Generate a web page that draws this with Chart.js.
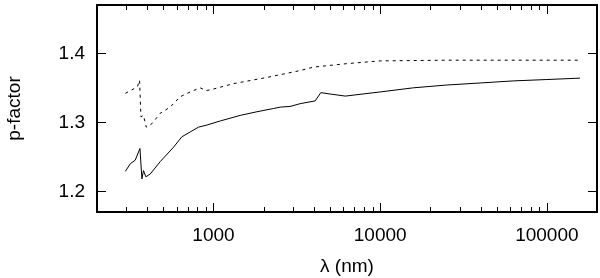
<!DOCTYPE html>
<html>
<head>
<meta charset="utf-8">
<script src="https://cdn.jsdelivr.net/npm/chart.js@4.4.0/dist/chart.umd.min.js"></script>
<style>
  html, body { margin: 0; padding: 0; background: #fff; }
  #wrap { width: 600px; height: 278px; }
</style>
</head>
<body>
<div id="wrap"><canvas id="pChart"></canvas></div>
<script>
// solid curve
const solidLambda = [296, 317, 339, 362, 372, 380, 393, 417, 479, 576, 646, 725, 813, 913, 1100, 1446, 1800, 2290, 2513, 2881, 3313, 4076, 4405, 5010, 6180, 7257, 10000, 15840, 25000, 39800, 63000, 100000, 158000];
const solidP = [1.229, 1.240, 1.245, 1.262, 1.218, 1.230, 1.221, 1.225, 1.243, 1.264, 1.279, 1.286, 1.293, 1.296, 1.302, 1.310, 1.315, 1.320, 1.322, 1.323, 1.327, 1.331, 1.343, 1.341, 1.338, 1.340, 1.344, 1.350, 1.354, 1.357, 1.360, 1.362, 1.364];

// dashed curve
const dashLambda = [296, 324, 350, 360, 367, 380, 395, 427, 479, 549, 631, 725, 832, 900, 956, 1318, 2090, 2513, 3313, 3980, 6310, 10000, 25100, 158000];
const dashP = [1.342, 1.347, 1.352, 1.361, 1.308, 1.310, 1.293, 1.298, 1.313, 1.322, 1.337, 1.344, 1.350, 1.346, 1.347, 1.356, 1.365, 1.369, 1.375, 1.380, 1.385, 1.389, 1.390, 1.390];

// ticks
const xMajorTicks = [1000, 10000, 100000];
const yTicks = [1.2, 1.3, 1.4];

const xMinorTicks = [];
[100, 1000, 10000, 100000].forEach(d => {
    for (let k = 2; k <= 9; k++) {
        const v = d * k;
        if (v >= 200 && v <= 200000 && xMajorTicks.indexOf(v) < 0) xMinorTicks.push(v);
    }
});

function pts(xs, ys) {
    return xs.map((x, i) => ({ x: x, y: ys[i] }));
}

// frame + inside ticks, drawn with the chart's own scales
const framePlugin = {
    id: 'frame',
    afterDraw(chart) {
        const ctx = chart.ctx;
        const a = chart.chartArea;
        const xs = chart.scales.x, ys = chart.scales.y;
        ctx.save();
        ctx.strokeStyle = '#000';
        ctx.lineWidth = 1;
        ctx.beginPath();
        xMajorTicks.forEach(v => {
            const px = Math.round(xs.getPixelForValue(v)) + 0.5;
            ctx.moveTo(px, a.bottom); ctx.lineTo(px, a.bottom - 9);
            ctx.moveTo(px, a.top); ctx.lineTo(px, a.top + 9);
        });
        xMinorTicks.forEach(v => {
            const px = Math.round(xs.getPixelForValue(v)) + 0.5;
            ctx.moveTo(px, a.bottom); ctx.lineTo(px, a.bottom - 5);
            ctx.moveTo(px, a.top); ctx.lineTo(px, a.top + 5);
        });
        yTicks.forEach(v => {
            const py = Math.round(ys.getPixelForValue(v)) + 0.5;
            ctx.moveTo(a.left, py); ctx.lineTo(a.left + 9, py);
            ctx.moveTo(a.right, py); ctx.lineTo(a.right - 9, py);
        });
        ctx.stroke();
        ctx.lineWidth = 2;
        ctx.strokeRect(a.left, a.top, a.right - a.left, a.bottom - a.top);
        ctx.restore();
    }
};

const ctx = document.getElementById('pChart').getContext('2d');
new Chart(ctx, {
    type: 'line',
    data: {
        datasets: [
            {
                data: pts(solidLambda, solidP),
                borderColor: '#000',
                borderWidth: 1,
                pointRadius: 0,
                tension: 0
            },
            {
                data: pts(dashLambda, dashP),
                borderColor: '#000',
                borderWidth: 1,
                borderDash: [3, 4],
                pointRadius: 0,
                tension: 0
            }
        ]
    },
    options: {
        responsive: true,
        maintainAspectRatio: false,
        animation: false,
        layout: { padding: { top: 5, right: 3, left: 0, bottom: 0 } },
        plugins: {
            legend: { display: false },
            tooltip: { enabled: false }
        },
        scales: {
            x: {
                type: 'logarithmic',
                min: 200,
                max: 200000,
                grid: { display: false, drawTicks: false },
                border: { display: false },
                afterBuildTicks: s => { s.ticks = xMajorTicks.map(v => ({ value: v })); },
                afterFit: s => { s.height = 66; s.paddingLeft = 0; s.paddingRight = 0; },
                ticks: {
                    color: '#000',
                    font: { family: 'Liberation Sans', size: 19 },
                    padding: 12,
                    maxRotation: 0,
                    autoSkip: false,
                    callback: v => String(v)
                },
                title: {
                    display: true,
                    text: 'λ (nm)',
                    color: '#000',
                    font: { family: 'Liberation Sans', size: 19 },
                    padding: { top: 2, bottom: 0 }
                }
            },
            y: {
                min: 1.17,
                max: 1.47,
                grid: { display: false, drawTicks: false },
                border: { display: false },
                afterBuildTicks: s => { s.ticks = yTicks.map(v => ({ value: v })); },
                afterFit: s => { s.width = 97; s.paddingTop = 0; s.paddingBottom = 0; },
                ticks: {
                    color: '#000',
                    font: { family: 'Liberation Sans', size: 19 },
                    padding: 12,
                    callback: v => v.toFixed(1)
                },
                title: {
                    display: true,
                    text: 'p-factor',
                    color: '#000',
                    font: { family: 'Liberation Sans', size: 19 },
                    padding: { top: 3, bottom: 12 }
                }
            }
        }
    },
    plugins: [framePlugin]
});
</script>
</body>
</html>
